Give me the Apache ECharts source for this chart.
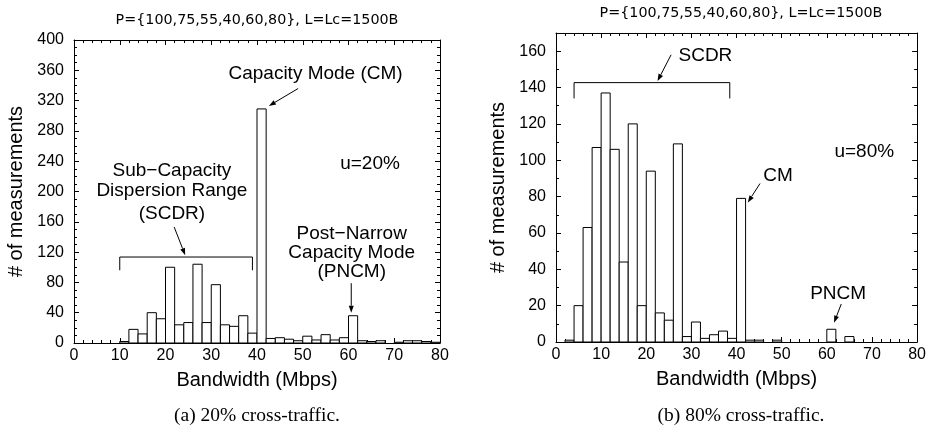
<!DOCTYPE html>
<html>
<head>
<meta charset="utf-8">
<script src="https://cdn.jsdelivr.net/npm/echarts@6/dist/echarts.min.js"></script>
<style>
  html, body { margin: 0; padding: 0; background: #fff; }
  #main { width: 929px; height: 439px; }
</style>
</head>
<body>
<div id="main"></div>
<script>
// 2 Mbps histogram bins, 0..80
var BIN = 2
var binStarts = [0, 2, 4, 6, 8, 10, 12, 14, 16, 18, 20, 22, 24, 26, 28, 30, 32, 34, 36, 38,
  40, 42, 44, 46, 48, 50, 52, 54, 56, 58, 60, 62, 64, 66, 68, 70, 72, 74, 76, 78]
// (a) u=20%
var countsU20 = [0, 0, 0, 0, 0, 2, 18, 12, 40, 32, 100, 24, 27, 104, 27, 77, 24, 22, 36, 13,
  309, 6, 7, 5, 3, 9, 4, 11, 4, 7, 36, 3, 2, 3, 0, 1, 3, 3, 2, 1]
// (b) u=80%
var countsU80 = [0, 1, 20, 63, 107, 137, 106, 44, 120, 20, 94, 16, 12, 109, 3, 11, 2, 4, 6, 2,
  79, 1, 1, 0, 1, 0, 0, 0, 0, 0, 7, 0, 3, 0, 0, 0, 0, 0, 0, 0]
var titleText = 'P={100,75,55,40,60,80}, L=Lc=1500B'
var captions = ['(a) 20% cross-traffic.', '(b) 80% cross-traffic.']

var SANS = '"Liberation Sans", Arial, sans-serif'

function binData (counts) {
  return binStarts.map(function (b, i) { return [b, counts[i]] })
    .filter(function (d) { return d[1] > 0 })
}

function renderBin (params, api) {
  var x0 = api.value(0)
  var p0 = api.coord([x0, api.value(1)])
  var p1 = api.coord([x0 + BIN, 0])
  return {
    type: 'rect',
    shape: { x: p0[0], y: p0[1], width: p1[0] - p0[0], height: p1[1] - p0[1] },
    style: { fill: '#fff', stroke: '#000', lineWidth: 1 }
  }
}

var lineStyle = { color: '#000', width: 1 }

function xAxes (gi) {
  var base = {
    gridIndex: gi, type: 'value', min: 0, max: 80, interval: 10,
    axisLine: { onZero: false, lineStyle: lineStyle },
    axisTick: { inside: true, length: 5, lineStyle: lineStyle },
    minorTick: { show: true, splitNumber: 5, length: 3, lineStyle: lineStyle },
    splitLine: { show: false }
  }
  var bottom = Object.assign({}, base, {
    position: 'bottom',
    axisLabel: { color: '#000', fontSize: 16, fontFamily: SANS, margin: 5 },
    name: 'Bandwidth (Mbps)', nameLocation: 'middle', nameGap: 27,
    nameTextStyle: { color: '#000', fontSize: 20, fontFamily: SANS }
  })
  var top = Object.assign({}, base, { position: 'top', axisLabel: { show: false } })
  return [bottom, top]
}

function yAxes (gi, ymax, yint, ysplit) {
  var base = {
    gridIndex: gi, type: 'value', min: 0, max: ymax, interval: yint,
    axisLine: { onZero: false, lineStyle: lineStyle },
    axisTick: { inside: true, length: 5, lineStyle: lineStyle },
    minorTick: { show: true, splitNumber: ysplit, length: 3, lineStyle: lineStyle },
    splitLine: { show: false }
  }
  var left = Object.assign({}, base, {
    position: 'left',
    axisLabel: {
      color: '#000', fontSize: 16, fontFamily: SANS, margin: 10,
      formatter: function (v) { return v % yint === 0 ? String(v) : '' }
    },
    name: '# of measurements', nameLocation: 'middle', nameGap: 48,
    nameTextStyle: { color: '#000', fontSize: 20, fontFamily: SANS }
  })
  var right = Object.assign({}, base, { position: 'right', axisLabel: { show: false } })
  return [left, right]
}

var chart = echarts.init(document.getElementById('main'), null, { renderer: 'canvas' })

var option = {
  backgroundColor: '#fff',
  animation: false,
  grid: [
    { left: 74, top: 40, width: 366, height: 303 },
    { left: 556, top: 33, width: 370, height: 309 }
  ],
  xAxis: xAxes(0).concat(xAxes(1)),
  yAxis: yAxes(0, 400, 40, 4).concat(yAxes(1, 170, 20, 2)),
  series: [
    { type: 'custom', xAxisIndex: 0, yAxisIndex: 0, renderItem: renderBin, data: binData(countsU20) },
    { type: 'custom', xAxisIndex: 2, yAxisIndex: 2, renderItem: renderBin, data: binData(countsU80) }
  ]
}
chart.setOption(option)

// annotations, placed in data coordinates of each panel
var finders = [{ xAxisIndex: 0, yAxisIndex: 0 }, { xAxisIndex: 2, yAxisIndex: 2 }]
function px (g, x, y) { return chart.convertToPixel(finders[g], [x, y]) }

var graphics = []
function text (g, x, y, str, size) {
  var p = px(g, x, y)
  graphics.push({
    type: 'text', x: p[0], y: p[1],
    style: { text: str, font: (size || 19) + 'px ' + SANS, fill: '#000', align: 'center', verticalAlign: 'middle' }
  })
}
function arrow (g, x0, y0, x1, y1) {
  var a = px(g, x0, y0)
  var b = px(g, x1, y1)
  var dx = b[0] - a[0]
  var dy = b[1] - a[1]
  var len = Math.sqrt(dx * dx + dy * dy)
  var ux = dx / len
  var uy = dy / len
  var hl = 7
  var hw = 2.5
  var bx = b[0] - ux * hl
  var by = b[1] - uy * hl
  graphics.push({ type: 'line', shape: { x1: a[0], y1: a[1], x2: bx, y2: by }, style: { stroke: '#000', lineWidth: 1 } })
  graphics.push({
    type: 'polygon',
    shape: { points: [[b[0], b[1]], [bx - uy * hw, by + ux * hw], [bx + uy * hw, by - ux * hw]] },
    style: { fill: '#000' }
  })
}
function bracket (g, x0, x1, y, yEnd) {
  var a = px(g, x0, yEnd)
  var b = px(g, x0, y)
  var c = px(g, x1, y)
  var d = px(g, x1, yEnd)
  graphics.push({ type: 'polyline', shape: { points: [a, b, c, d] }, style: { stroke: '#000', lineWidth: 1, fill: null } })
}

// (a)
text(0, 52.8, 355, 'Capacity Mode (CM)')
arrow(0, 49, 336, 42.6, 313)
text(0, 64.7, 237, 'u=20%')
text(0, 21.4, 227, 'Sub\u2212Capacity')
text(0, 21.4, 201, 'Dispersion Range')
text(0, 21.4, 170, '(SCDR)')
arrow(0, 21.9, 153, 24.3, 116)
bracket(0, 10, 39, 113.5, 96)
text(0, 60.7, 144, 'Post\u2212Narrow')
text(0, 60.7, 119, 'Capacity Mode')
text(0, 60.7, 94, '(PNCM)')
arrow(0, 60.6, 79, 60.6, 40)

// (b)
text(1, 33.1, 157.7, 'SCDR')
arrow(1, 25.5, 158, 22.5, 143.6)
bracket(1, 4, 38.5, 142.7, 134)
text(1, 68.3, 104.6, 'u=80%')
text(1, 49.2, 91.2, 'CM')
arrow(1, 45.2, 87.2, 42.5, 76.8)
text(1, 62.5, 26.8, 'PNCM')
arrow(1, 63.2, 20.9, 61.6, 10.6)

// panel titles and captions
var TITLE_FONT = '14.3px "DejaVu Sans", sans-serif'
graphics.push({ type: 'text', x: 257, y: 20, style: { text: titleText, font: TITLE_FONT, fill: '#000', align: 'center', verticalAlign: 'middle' } })
graphics.push({ type: 'text', x: 741, y: 13, style: { text: titleText, font: TITLE_FONT, fill: '#000', align: 'center', verticalAlign: 'middle' } })
graphics.push({ type: 'text', x: 257, y: 416, style: { text: captions[0], font: '19.5px "Liberation Serif", serif', fill: '#000', align: 'center', verticalAlign: 'middle' } })
graphics.push({ type: 'text', x: 741, y: 416, style: { text: captions[1], font: '19.5px "Liberation Serif", serif', fill: '#000', align: 'center', verticalAlign: 'middle' } })

chart.setOption({ graphic: graphics })
</script>
</body>
</html>
